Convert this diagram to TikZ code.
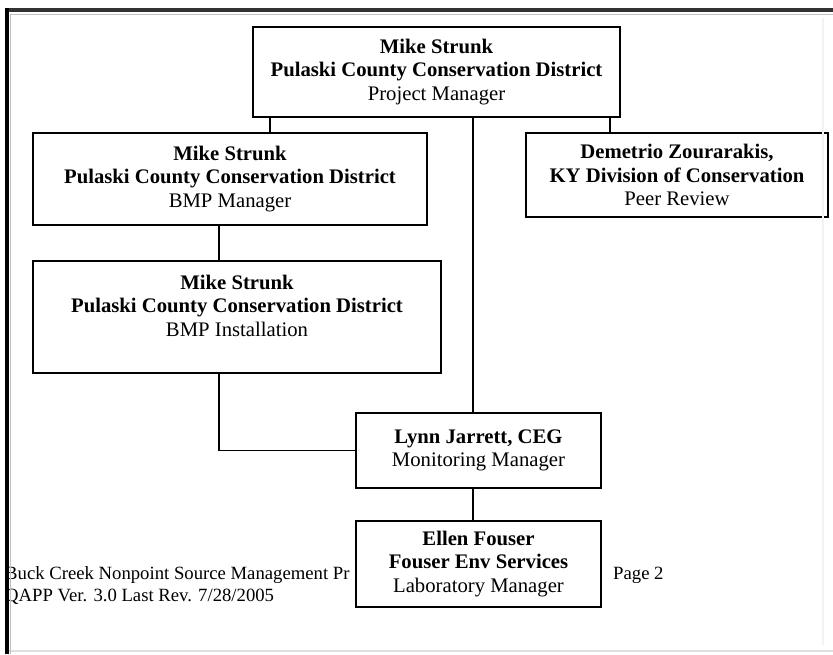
\documentclass[tikz,border=0pt]{standalone}
\usepackage{fontspec}
\setmainfont{Liberation Serif}
\usetikzlibrary{positioning, calc}

\begin{document}
\begin{tikzpicture}[
    x=1pt, y=-1pt,
    every node/.style={font=\rmfamily\fontsize{20.7}{23.5}\selectfont},
    role/.style={draw, line width=1.8pt, fill=white, inner sep=0pt, align=center},
    link/.style={line width=1.8pt},
    footer/.style={font=\rmfamily\fontsize{18.7}{22}\selectfont, anchor=west, inner sep=0pt},
]
\useasboundingbox (0,0) rectangle (833,654);

% page footer (partly hidden by the boxes)
\node[footer] (foot1) at (5,575) {Buck Creek Nonpoint Source Management Pr};
\node[footer] (foot2) at (5,597) {QAPP Ver. 3.0 Last Rev. 7/28/2005};
\node[footer] (page) at (613,575) {Page 2};

% roles
\node[role, minimum width=367pt, minimum height=90pt] (pm) at (436.5,72)
    {\textbf{Mike Strunk}\\ \textbf{Pulaski County Conservation District}\\ Project Manager};
\node[role, minimum width=394pt, minimum height=92pt] (bmpm) at (230,179)
    {\textbf{Mike Strunk}\\ \textbf{Pulaski County Conservation District}\\ BMP Manager};
\node[role, minimum width=302pt, minimum height=84pt] (peer) at (677,175)
    {\textbf{Demetrio Zourarakis,}\\ \textbf{KY Division of Conservation}\\ Peer Review};
\node[role, minimum width=408pt, minimum height=112pt] (inst) at (237,317) {};
\node[align=center, inner sep=0pt] (insttext) at (237,305.5)
    {\textbf{Mike Strunk}\\ \textbf{Pulaski County Conservation District}\\ BMP Installation};
\node[role, minimum width=245pt, minimum height=75pt] (mon) at (478.5,450.5)
    {\textbf{Lynn Jarrett, CEG}\\ Monitoring Manager};
\node[role, minimum width=245pt, minimum height=86pt] (lab) at (478.5,564)
    {\textbf{Ellen Fouser}\\ \textbf{Fouser Env Services}\\ Laboratory Manager};

% connectors
\coordinate (trunk) at (473,0);
\coordinate (lbranch) at (270,0);
\coordinate (rbranch) at (610,0);
\coordinate (bmpline) at (219,0);
\draw[link] (pm.south -| lbranch) -- (bmpm.north -| lbranch);
\draw[link] (pm.south -| rbranch) -- (peer.north -| rbranch);
\draw[link] (pm.south -| trunk) -- (mon.north -| trunk);
\draw[link] (bmpm.south -| bmpline) -- (inst.north -| bmpline);
\draw[link] (inst.south -| bmpline) |- (mon.west);
\draw[link] (mon.south -| trunk) -- (lab.north -| trunk);

% page frame
\draw[line width=1.5pt, gray!25] (9,651) -- (833,651);
\draw[line width=4pt, black!80] (5,10) -- (833,10);
\draw[line width=1pt, gray!50] (10,14.5) -- (833,14.5);
\draw[line width=3.5pt] (7,8) -- (7,654);
\draw[line width=1pt, gray!50] (10.5,14) -- (10.5,654);
\draw[line width=2pt, gray!10] (823,18) -- (823,645);
\end{tikzpicture}
\end{document}
